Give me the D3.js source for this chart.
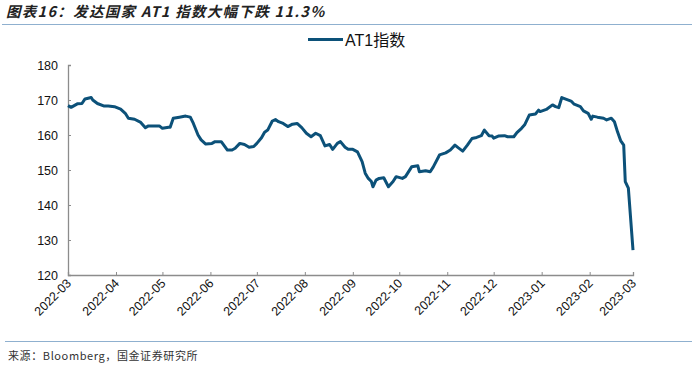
<!DOCTYPE html>
<html><head><meta charset="utf-8">
<script src="https://cdn.jsdelivr.net/npm/d3@7/dist/d3.min.js"></script>
<style>
body{margin:0;background:#fff;}
svg{display:block;}
</style></head>
<body>
<svg id="c" width="700" height="368"></svg>
<script>
const title = "图表16：发达国家 AT1 指数大幅下跌 11.3%";
const source = "来源：Bloomberg，国金证券研究所";
const seriesName = "AT1指数";
const dates = ["2022-03-20","2022-03-22","2022-03-26","2022-03-29","2022-03-31","2022-04-04","2022-04-05","2022-04-08","2022-04-12","2022-04-15","2022-04-19","2022-04-23","2022-04-26","2022-04-28","2022-05-02","2022-05-06","2022-05-09","2022-05-11","2022-05-18","2022-05-20","2022-05-24","2022-05-25","2022-05-27","2022-05-31","2022-06-04","2022-06-07","2022-06-09","2022-06-12","2022-06-14","2022-06-17","2022-06-21","2022-06-23","2022-06-27","2022-07-01","2022-07-04","2022-07-06","2022-07-09","2022-07-12","2022-07-15","2022-07-18","2022-07-20","2022-07-23","2022-07-25","2022-07-27","2022-07-30","2022-08-01","2022-08-03","2022-08-06","2022-08-09","2022-08-12","2022-08-15","2022-08-18","2022-08-21","2022-08-24","2022-08-27","2022-08-30","2022-09-02","2022-09-05","2022-09-07","2022-09-10","2022-09-12","2022-09-15","2022-09-17","2022-09-20","2022-09-23","2022-09-26","2022-09-28","2022-09-30","2022-10-02","2022-10-03","2022-10-05","2022-10-07","2022-10-10","2022-10-13","2022-10-16","2022-10-18","2022-10-22","2022-10-24","2022-10-28","2022-11-01","2022-11-02","2022-11-06","2022-11-09","2022-11-11","2022-11-15","2022-11-19","2022-11-22","2022-11-25","2022-11-27","2022-11-30","2022-12-03","2022-12-06","2022-12-09","2022-12-12","2022-12-14","2022-12-17","2022-12-19","2022-12-20","2022-12-23","2022-12-27","2022-12-29","2023-01-02","2023-01-04","2023-01-07","2023-01-09","2023-01-12","2023-01-16","2023-01-18","2023-01-19","2023-01-23","2023-01-27","2023-01-29","2023-01-31","2023-02-02","2023-02-05","2023-02-08","2023-02-10","2023-02-14","2023-02-16","2023-02-19","2023-02-21","2023-02-22","2023-02-25","2023-03-01","2023-03-03","2023-03-06","2023-03-08","2023-03-10","2023-03-12","2023-03-14","2023-03-15","2023-03-17","2023-03-20"];
const values = [168.4,167.9,168.9,169.0,170.3,170.7,170.0,169.0,168.3,168.3,168.1,167.4,166.2,164.8,164.5,163.6,162.1,162.6,162.6,161.9,162.2,162.2,164.8,165.1,165.4,165.1,163.3,160.0,158.6,157.4,157.6,158.1,158.1,155.7,155.7,156.2,157.6,157.3,156.5,156.7,157.6,159.2,160.8,161.4,164.0,164.4,163.8,163.3,162.4,163.1,163.3,162.1,160.5,159.5,160.5,159.8,156.9,157.3,155.9,157.6,158.1,156.5,155.9,155.9,155.2,152.4,149.1,147.6,146.7,145.2,147.1,147.6,147.8,145.2,146.7,148.1,147.6,148.1,150.9,151.2,149.5,149.8,149.5,150.9,154.3,154.9,155.7,157.1,156.4,155.4,157.1,159.0,159.3,159.8,161.4,159.8,159.7,159.1,159.7,159.8,159.5,159.5,160.7,161.9,162.9,165.7,166.0,167.1,166.7,167.3,168.6,168.1,167.8,170.7,170.2,169.7,168.8,168.1,166.9,166.2,164.5,165.4,165.1,164.8,164.3,164.8,163.8,160.9,158.4,157.1,146.7,144.8,127.1];
const yTicks = [120,130,140,150,160,170,180];
const xTickLabels = ["2022-03","2022-04","2022-05","2022-06","2022-07","2022-08","2022-09","2022-10","2022-11","2022-12","2023-01","2023-02","2023-03"];

const parse = d3.timeParse("%Y-%m-%d");
const data = dates.map((d,i)=>({date:parse(d), value:values[i]}));
const svg = d3.select("#c");
const mLeft = 68, mRight = 633, mTop = 65, mBottom = 275;
const axisColor = "#8c8c8c";
const lineColor = "#0c5179";

const x = d3.scaleTime().domain([parse("2022-03-20"), parse("2023-03-20")]).range([mLeft, mRight]);
const y = d3.scaleLinear().domain([120,180]).range([mBottom, mTop]);

// title
svg.append("text").attr("x",6).attr("y",17)
  .attr("font-family","'Noto Sans CJK SC'").attr("font-size",14.5).attr("font-weight","bold")
  .attr("font-style","italic").attr("letter-spacing",1.3).attr("fill","#222").text(title);
svg.append("line").attr("x1",2).attr("x2",692).attr("y1",24.5).attr("y2",24.5)
  .attr("stroke","#8fb0cf").attr("stroke-width",1.2);
svg.append("line").attr("x1",5).attr("x2",692).attr("y1",341.5).attr("y2",341.5)
  .attr("stroke","#8fb0cf").attr("stroke-width",1.2);
svg.append("text").attr("x",8).attr("y",360)
  .attr("font-family","'Noto Sans CJK SC'").attr("font-size",11).attr("letter-spacing",0.6).attr("fill","#333").text(source);

// legend
svg.append("line").attr("x1",308).attr("x2",343).attr("y1",39.5).attr("y2",39.5)
  .attr("stroke",lineColor).attr("stroke-width",3);
svg.append("text").attr("x",345).attr("y",45.5)
  .attr("font-family","'Liberation Sans','Noto Sans CJK SC'").attr("font-size",16).attr("fill","#111").text(seriesName);

// y axis
const ya = svg.append("g").attr("transform",`translate(${mLeft},0)`)
  .call(d3.axisRight(y).tickValues(yTicks).tickSize(3).tickFormat(""));
ya.select(".domain").attr("stroke",axisColor).attr("stroke-width",1.3);
ya.selectAll(".tick line").attr("stroke",axisColor);
svg.append("g").selectAll("text").data(yTicks).join("text")
  .attr("x",58).attr("y",d=>y(d)+4.5).attr("text-anchor","end")
  .attr("font-family","'Liberation Sans',Arial").attr("font-size",12.5).attr("fill","#111").text(d=>d);

// x axis
const tickDates = xTickLabels.map(s=>parse(s+"-20"));
const xa = svg.append("g").attr("transform",`translate(0,${mBottom})`)
  .call(d3.axisTop(x).tickValues(tickDates).tickSize(3).tickFormat(""));
xa.select(".domain").attr("stroke",axisColor).attr("stroke-width",1.3);
xa.selectAll(".tick line").attr("stroke",axisColor);
svg.append("g").selectAll("text").data(tickDates).join("text")
  .attr("transform",(d)=>`translate(${x(d)+4},${mBottom+9}) rotate(-45)`)
  .attr("text-anchor","end")
  .attr("font-family","'Liberation Sans',Arial").attr("font-size",12.5).attr("fill","#111")
  .text((d,i)=>xTickLabels[i]);

// line
svg.append("path").datum(data)
  .attr("d", d3.line().x(d=>x(d.date)).y(d=>y(d.value)))
  .attr("fill","none").attr("stroke",lineColor).attr("stroke-width",3).attr("stroke-linejoin","round");
</script>
</body></html>
